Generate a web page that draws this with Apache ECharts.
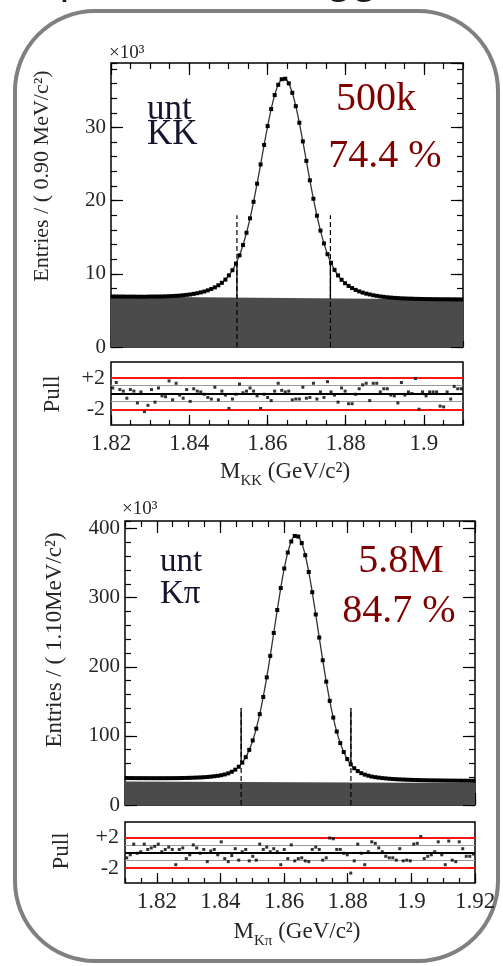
<!DOCTYPE html>
<html><head><meta charset="utf-8">
<script src="https://cdn.jsdelivr.net/npm/echarts@6/dist/echarts.min.js"></script>
<style>html,body{margin:0;padding:0;background:#fff}#c{width:503px;height:966px}</style>
</head><body><div id="c"></div>
<script>
// ---------- DATA ----------
// KK panel: 100 bins, 1.82 - 1.91 GeV/c^2, entries in units of 10^3
const kkRange = [1.82, 1.91];
const kkTicks = [1.82, 1.84, 1.86, 1.88, 1.9];
const kkYMax = 38.8;
const kkValues = [
 6.90,6.90,6.89,6.89,6.88,6.88,6.88,6.87,6.87,6.86,
 6.88,6.89,6.89,6.90,6.90,6.92,6.94,6.96,6.99,7.02,
 7.07,7.12,7.18,7.26,7.35,7.46,7.58,7.74,7.93,8.15,
 8.43,8.77,9.21,9.78,10.49,11.40,12.52,13.93,15.61,17.58,
 19.84,22.31,24.94,27.61,30.18,32.51,34.42,35.82,36.58,36.65,
 36.02,34.73,32.90,30.64,28.09,25.43,22.77,20.25,17.94,15.90,
 14.15,12.68,11.50,10.54,9.78,9.18,8.71,8.34,8.05,7.80,
 7.60,7.43,7.29,7.18,7.07,6.99,6.91,6.85,6.79,6.75,
 6.71,6.68,6.65,6.63,6.61,6.60,6.58,6.57,6.56,6.55,
 6.54,6.53,6.53,6.52,6.52,6.52,6.51,6.51,6.50,6.50];
const kkBackground = [6.9, 6.5];
const kkPulls = [
 0.7,1.4,0.5,0.3,-0.6,0.5,0.3,-1.2,0.2,-2.3,
 -1.5,0.5,-1.1,0.7,-0.3,-0.4,1.6,-0.8,1.3,-0.2,
 -0.6,0.5,-1.0,0.6,0.3,0.2,-0.1,-0.5,-0.7,0.8,
 -0.8,0.3,-0.2,-1.9,-0.7,-0.1,1.2,0.1,0.3,0.7,
 0.3,-0.3,-1.9,-0.1,-0.5,-0.9,0.3,1.3,0.4,0.2,
 0.3,-0.8,-0.7,-0.7,0.8,-0.6,-0.5,1.3,-0.7,0.2,
 -0.5,1.5,0.2,-0.2,-1.1,0.7,0.3,-1.3,-1.3,-0.1,
 0.6,1.1,1.3,-0.9,1.3,1.3,0.2,0.6,0.6,-0.2,
 -0.3,-1.2,1.4,-0.2,0.2,0.0,1.9,-2.0,0.2,-0.3,
 0.2,0.2,0.2,-1.6,-1.7,0.2,-0.7,0.9,0.6,0.6];
const kkCuts = [1.8522, 1.8761];
const kkCutCurve = [11.8, 11.7];
const kkCutBase = [6.8, 6.6];
const kkCutTop = 18;

// Kpi panel: 100 bins, 1.81 - 1.92 GeV/c^2, entries in units of 10^3
const kpiRange = [1.81, 1.92];
const kpiTicks = [1.82, 1.84, 1.86, 1.88, 1.9, 1.92];
const kpiYMax = 411;
const kpiValues = [
 39.0,38.96,38.92,38.88,38.88,38.85,38.83,38.81,38.80,38.79,
 38.79,38.80,38.82,38.85,38.90,38.96,39.05,39.17,39.31,39.48,
 39.68,39.92,40.20,40.57,41.03,41.59,42.25,43.11,44.27,45.83,
 48.09,51.15,55.41,61.27,69.23,79.79,93.45,110.51,131.46,156.32,
 184.68,215.84,248.9,282.16,313.92,342.28,365.34,381.4,389.36,388.52,
 378.98,361.44,337.2,307.96,275.72,242.28,209.44,178.6,150.76,126.52,
 106.28,89.64,76.6,66.46,58.81,53.17,49.13,46.09,43.95,42.41,
 41.17,40.28,39.59,38.95,38.46,38.0,37.65,37.33,37.06,36.81,
 36.6,36.41,36.25,36.1,35.98,35.86,35.76,35.67,35.59,35.51,
 35.45,35.39,35.33,35.28,35.23,35.18,35.14,35.09,35.05,35.0];
const kpiBackground = [34, 32];
const kpiPulls = [
 -0.7,-0.3,1.1,-0.1,0.1,1.1,0.4,0.6,0.8,1.1,
 0.1,0.4,0.7,0.4,-1.6,0.4,0.6,-0.8,-0.3,1.0,
 0.6,-0.1,0.4,-1.2,0.2,0.4,-0.3,1.4,-0.8,-1.2,
 -0.4,0.5,-1.0,0.1,0.4,-1.1,-0.5,-1.0,1.1,0.4,
 0.7,0.1,0.5,0.1,-1.6,0.4,-0.8,1.0,-1.1,-0.8,
 -0.7,-1.1,-1.2,0.4,0.7,0.4,-1.0,-0.7,1.9,1.8,
 0.4,0.4,-0.1,-0.3,-2.7,-1.1,1.1,-0.1,-1.6,0.1,
 1.4,1.2,0.6,0.1,-0.5,-0.7,-0.7,-1.0,0.5,-1.1,
 -1.0,-1.1,1.1,1.2,2.1,-0.8,-0.5,-0.3,0.1,1.4,
 -0.3,-1.6,1.5,-1.0,-1.2,1.4,0.5,-0.5,-0.5,-0.2];
const kpiCuts = [1.8465, 1.881];
const kpiCutCurve = [62, 60];
const kpiCutTop = 140;

const pullRange = [-4, 4];
const pullTickLabels = [-2, 2];
const pullLines = [-2, -1, 0, 1, 2];

// ---------- CHART ----------
const serif = '"Liberation Serif","DejaVu Serif",serif';
const labelColor = '#262626';
const tickLine = {color:'#000', width:1.2};
const xAxes = [], yAxes = [], series = [];
const addX = o => (xAxes.push(o), xAxes.length - 1);
const addY = o => (yAxes.push(o), yAxes.length - 1);

function baseAx(g, range, pos, extra) {
  return Object.assign({type:'value', gridIndex:g, min:range[0], max:range[1], position:pos,
    axisLine:{show:false, onZero:false}, splitLine:{show:false}, axisLabel:{show:false},
    axisTick:{show:false}}, extra);
}
function centers(range, n) {
  const w = (range[1] - range[0]) / n, out = [];
  for (let i = 0; i < n; i++) out.push(+(range[0] + (i + 0.5) * w).toFixed(6));
  return out;
}

function panel(c) {
  const xs = centers(c.range, c.values.length);
  const xm = addX(baseAx(c.gMain, c.range, 'bottom', {axisTick:{show:true, inside:true, length:12, customValues:c.ticks, lineStyle:tickLine}}));
  addX(baseAx(c.gMain, c.range, 'bottom', {interval:0.005, axisTick:{show:true, inside:true, length:6, lineStyle:tickLine}}));
  addX(baseAx(c.gMain, c.range, 'top', {axisTick:{show:true, inside:true, length:12, customValues:c.ticks, lineStyle:tickLine}}));
  addX(baseAx(c.gMain, c.range, 'top', {interval:0.005, axisTick:{show:true, inside:true, length:6, lineStyle:tickLine}}));
  const ym = addY(baseAx(c.gMain, [0, c.yMax], 'left', {interval:c.yMajor,
    axisTick:{show:true, inside:true, length:12, lineStyle:tickLine},
    axisLabel:{show:true, showMaxLabel:false, margin:5, fontSize:21, fontFamily:serif, color:labelColor}}));
  addY(baseAx(c.gMain, [0, c.yMax], 'left', {interval:c.yMinor, axisTick:{show:true, inside:true, length:6, lineStyle:tickLine}}));
  addY(baseAx(c.gMain, [0, c.yMax], 'right', {interval:c.yMajor, axisTick:{show:true, inside:true, length:12, lineStyle:tickLine}}));
  addY(baseAx(c.gMain, [0, c.yMax], 'right', {interval:c.yMinor, axisTick:{show:true, inside:true, length:6, lineStyle:tickLine}}));

  series.push({type:'line', xAxisIndex:xm, yAxisIndex:ym, silent:true, z:1,
    data:[[c.range[0], c.bg[0]], [c.range[1], c.bg[1]]], symbol:'none',
    lineStyle:{width:0}, areaStyle:{color:'#4b4b4b', opacity:1}});
  c.cuts.forEach((x, k) => {
    series.push({type:'line', xAxisIndex:xm, yAxisIndex:ym, silent:true, z:3, symbol:'none',
      data:[[x, 0], [x, c.cutTop]], lineStyle:{color:'#000', width:1.2, type:[5, 3]}});
    const seg = c.solidAbove ? [[x, c.cutCurve[k]], [x, c.cutTop]] : [[x, c.cutBase[k]], [x, c.cutCurve[k]]];
    series.push({type:'line', xAxisIndex:xm, yAxisIndex:ym, silent:true, z:3, symbol:'none',
      data:seg, lineStyle:{color:'#000', width:1.3}});
  });
  series.push({type:'line', xAxisIndex:xm, yAxisIndex:ym, silent:true, z:5,
    data:xs.map((x, i) => [x, c.values[i]]), smooth:0.25, symbol:'rect', symbolSize:4,
    showAllSymbol:true, lineStyle:{color:'#333', width:1.3}, itemStyle:{color:'#000'}});

  const xp = addX(baseAx(c.gPull, c.range, 'bottom', {
    axisTick:{show:true, inside:true, length:10, customValues:c.ticks, lineStyle:tickLine},
    axisLabel:{show:true, customValues:c.ticks, margin:7, fontSize:23, fontFamily:serif, color:labelColor}}));
  addX(baseAx(c.gPull, c.range, 'bottom', {interval:0.005, axisTick:{show:true, inside:true, length:5, lineStyle:tickLine}}));
  const yp = addY(baseAx(c.gPull, pullRange, 'left', {
    axisLabel:{show:true, customValues:pullTickLabels, margin:6, fontSize:22, fontFamily:serif, color:labelColor,
      formatter:v => (v > 0 ? '+' + v : String(v))}}));
  const lineStyleFor = v => v === 0 ? {color:'#000', width:1.8, type:'solid'} :
    (Math.abs(v) === 2 ? {color:'#ff1414', width:2, type:'solid'} : {color:'#9a9a9a', width:1, type:'solid'});
  series.push({type:'scatter', xAxisIndex:xp, yAxisIndex:yp, silent:true, z:5,
    data:xs.map((x, i) => [x, c.pulls[i]]), symbol:'rect', symbolSize:3, itemStyle:{color:'#000'},
    markLine:{silent:true, symbol:'none', label:{show:false}, animation:false,
      data:pullLines.map(v => ({yAxis:v, lineStyle:lineStyleFor(v)}))}});
}

panel({gMain:0, gPull:1, range:kkRange, ticks:kkTicks, yMax:kkYMax, yMajor:10, yMinor:2,
  values:kkValues, bg:kkBackground, pulls:kkPulls, cuts:kkCuts, cutCurve:kkCutCurve,
  cutBase:kkCutBase, cutTop:kkCutTop, solidAbove:false});
panel({gMain:2, gPull:3, range:kpiRange, ticks:kpiTicks, yMax:kpiYMax, yMajor:100, yMinor:20,
  values:kpiValues, bg:kpiBackground, pulls:kpiPulls, cuts:kpiCuts, cutCurve:kpiCutCurve,
  cutBase:[0, 0], cutTop:kpiCutTop, solidAbove:true});

const gridStyle = {show:true, borderColor:'#000', borderWidth:1.5, backgroundColor:'#fff'};
const grids = [
  Object.assign({left:111, top:63, width:352, height:284}, gridStyle),
  Object.assign({left:111, top:362, width:352, height:63}, gridStyle),
  Object.assign({left:125, top:521, width:350, height:284}, gridStyle),
  Object.assign({left:125, top:822, width:350, height:61}, gridStyle)
];

function txt(text, x, y, size, opts) {
  opts = opts || {};
  return {type:'text', x:x, y:y, rotation:opts.rot || 0, z:10, silent:true,
    style:Object.assign({text:text, fontSize:size, fontFamily:opts.family || serif,
      fill:opts.color || labelColor, textAlign:opts.align || 'left', textVerticalAlign:'middle', verticalAlign:'middle'},
      opts.rich ? {rich:opts.rich} : {})};
}
const subRich = {
  a:{fontSize:23, fontFamily:serif, fill:labelColor, lineHeight:34, verticalAlign:'middle'},
  s:{fontSize:15, fontFamily:serif, fill:labelColor, lineHeight:15, verticalAlign:'bottom'}
};
const navy = '#15152e', red = '#800000';
const graphic = [
  {type:'rect', z:-1, silent:true, shape:{x:15, y:11, width:483, height:950, r:80},
   style:{fill:'none', stroke:'#808080', lineWidth:4}},
  txt('p', 59, -17, 40, {family:'"DejaVu Sans",sans-serif', color:'#1a1a1a'}),
  txt('gg', 327, -17, 40, {family:'"DejaVu Sans",sans-serif', color:'#1a1a1a'}),
  txt('×10³', 109, 53, 19),
  txt('×10³', 122, 509, 19),
  txt('Entries / ( 0.90 MeV/c²)', 42, 176, 22, {align:'center', rot:Math.PI / 2}),
  txt('Entries / ( 1.10MeV/c²)', 55, 640, 23, {align:'center', rot:Math.PI / 2}),
  txt('Pull', 53, 394, 23, {align:'center', rot:Math.PI / 2}),
  txt('Pull', 62, 851, 23, {align:'center', rot:Math.PI / 2}),
  txt('{a|M}{s|KK}{a| (GeV/c²)}', 285, 472, 23, {align:'center', rich:subRich}),
  txt('{a|M}{s|Kπ}{a| (GeV/c²)}', 297, 932, 23, {align:'center', rich:subRich}),
  txt('unt', 147, 110, 35, {color:navy}),
  txt('KK', 147, 135, 35, {color:navy}),
  txt('500k', 376, 99, 40, {color:red, align:'center'}),
  txt('74.4 %', 385, 156, 40, {color:red, align:'center'}),
  txt('unt', 160, 562, 33, {color:navy}),
  txt('Kπ', 160, 594, 33, {color:navy}),
  txt('5.8M', 401, 561, 40, {color:red, align:'center'}),
  txt('84.7 %', 399, 611, 40, {color:red, align:'center'})
];

const chart = echarts.init(document.getElementById('c'), null, {renderer:'canvas'});
chart.setOption({animation:false, backgroundColor:'#fff', grid:grids, xAxis:xAxes, yAxis:yAxes,
  series:series, graphic:graphic});
</script></body></html>
